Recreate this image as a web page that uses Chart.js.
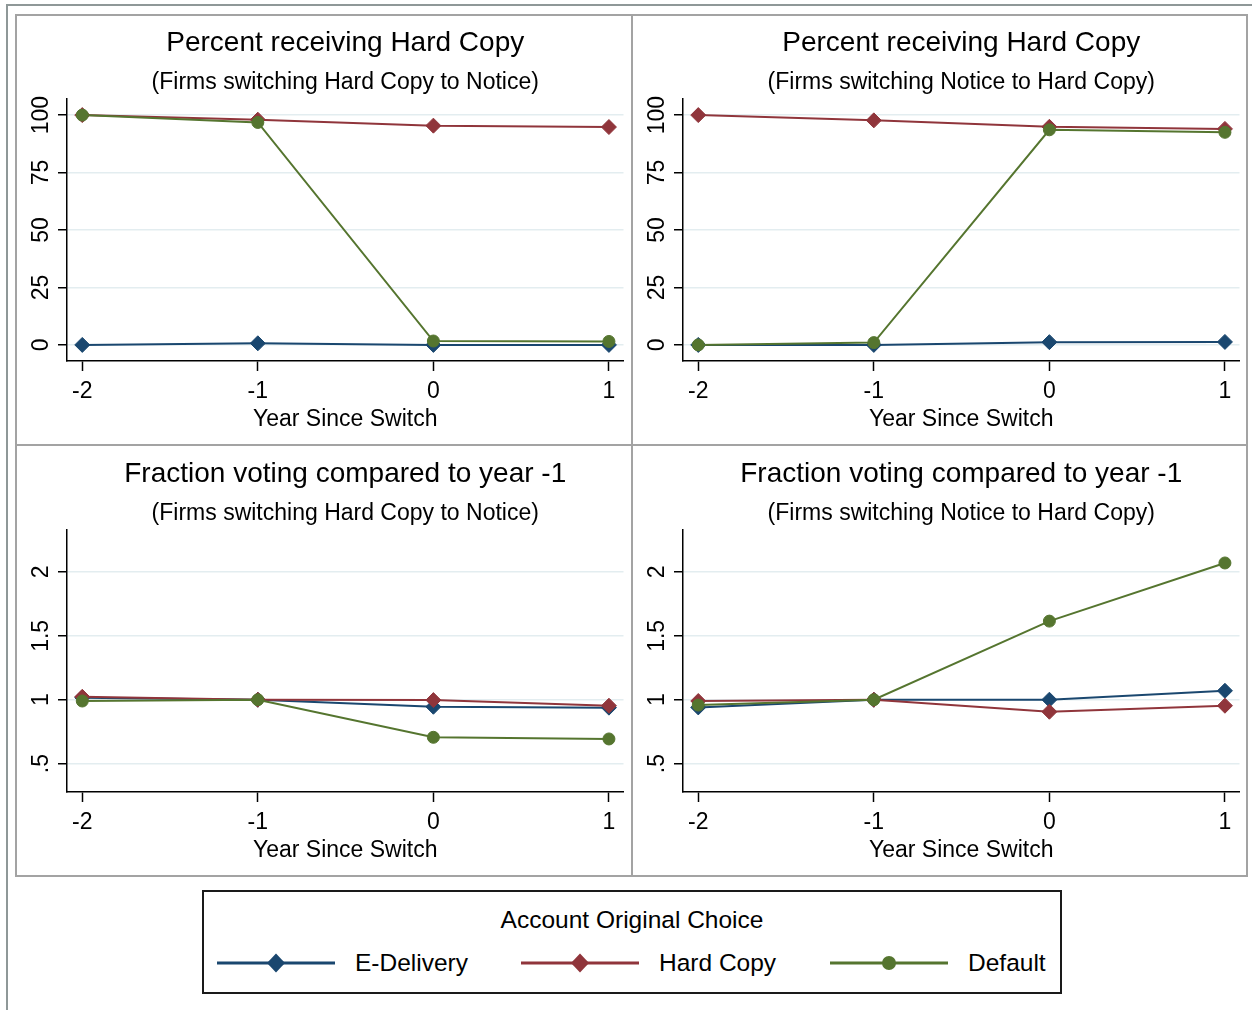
<!DOCTYPE html>
<html>
<head>
<meta charset="utf-8">
<script src="https://cdn.jsdelivr.net/npm/chart.js@4.4.1/dist/chart.umd.min.js"></script>
<style>
  html, body { margin: 0; padding: 0; background: #fff; }
  body { width: 1252px; height: 1010px; position: relative; overflow: hidden;
         font-family: "Liberation Sans", Arial, Helvetica, sans-serif; color: #000; }
  .frame { position: absolute; background: #8f9898; }
  .rule { position: absolute; background: #a3a3a3; }
  .panel { position: absolute; width: 615px; height: 430px; }
  .legend { position: absolute; left: 202px; top: 890px; width: 860px; height: 104px;
            border: 2px solid #1a1a1a; box-sizing: border-box; background: #fff; }
  .legend-title { position: absolute; left: 0; right: 0; top: 13px; text-align: center;
                  font-size: 24.5px; line-height: 30px; white-space: nowrap; }
  .legend-item { position: absolute; top: 56px; height: 30px; }
  .legend-item svg { position: absolute; left: 0; top: 0; }
  .legend-item span { position: absolute; top: 0; font-size: 24.5px; line-height: 30px; white-space: nowrap; }
</style>
</head>
<body>
<!-- outer frame -->
<div class="frame" style="left:6px;top:4px;width:1246px;height:2px;"></div>
<div class="frame" style="left:6px;top:4px;width:2px;height:1006px;"></div>
<!-- panel rules -->
<div class="rule" style="left:15px;top:14px;width:1233px;height:2px;"></div>
<div class="rule" style="left:15px;top:444px;width:1233px;height:2px;"></div>
<div class="rule" style="left:15px;top:875px;width:1233px;height:2px;"></div>
<div class="rule" style="left:15px;top:14px;width:2px;height:863px;"></div>
<div class="rule" style="left:631px;top:14px;width:2px;height:863px;"></div>
<div class="rule" style="left:1246px;top:14px;width:2px;height:863px;"></div>

<canvas id="pctHardToNotice" class="panel" width="615" height="430" style="left:17px;top:15px;"></canvas>
<canvas id="pctNoticeToHard" class="panel" width="615" height="430" style="left:633px;top:15px;"></canvas>
<canvas id="voteHardToNotice" class="panel" width="615" height="430" style="left:17px;top:446px;"></canvas>
<canvas id="voteNoticeToHard" class="panel" width="615" height="430" style="left:633px;top:446px;"></canvas>

<div class="legend" id="legend">
  <div class="legend-title">Account Original Choice</div>
</div>

<script>
// ---- data ----
const yearsSinceSwitch = [-2, -1, 0, 1];
const pctTicks = [0, 25, 50, 75, 100];
const ratioTicks = [0.5, 1, 1.5, 2];
const seriesNames = ['E-Delivery', 'Hard Copy', 'Default'];

// Percent receiving hard copy, firms switching hard copy -> notice
const pctHardToNoticeEDelivery = [0, 0.7, 0, 0];
const pctHardToNoticeHardCopy  = [100, 98.0, 95.4, 94.8];
const pctHardToNoticeDefault   = [100, 96.8, 1.7, 1.5];

// Percent receiving hard copy, firms switching notice -> hard copy
const pctNoticeToHardEDelivery = [0, 0, 1.2, 1.3];
const pctNoticeToHardHardCopy  = [100, 97.7, 94.9, 94.0];
const pctNoticeToHardDefault   = [0, 1.0, 93.6, 92.5];

// Fraction voting relative to year -1, firms switching hard copy -> notice
const voteHardToNoticeEDelivery = [1.016, 1.0, 0.945, 0.938];
const voteHardToNoticeHardCopy  = [1.023, 1.0, 0.997, 0.953];
const voteHardToNoticeDefault   = [0.99, 1.0, 0.706, 0.693];

// Fraction voting relative to year -1, firms switching notice -> hard copy
const voteNoticeToHardEDelivery = [0.94, 1.0, 1.0, 1.07];
const voteNoticeToHardHardCopy  = [0.99, 1.0, 0.906, 0.953];
const voteNoticeToHardDefault   = [0.958, 1.0, 1.615, 2.07];

// ---- styling ----
const FONT = '"Liberation Sans", Arial, Helvetica, sans-serif';
const seriesStyle = [
  { color: '#1a476f', marker: 'rectRot', radius: 7.5, order: 3 },
  { color: '#90353b', marker: 'rectRot', radius: 7.5, order: 2 },
  { color: '#55752f', marker: 'circle',  radius: 6,   order: 1 }
];

function makeDatasets(seriesValues) {
  return seriesValues.map((values, s) => ({
    label: seriesNames[s],
    data: yearsSinceSwitch.map((x, i) => ({ x: x, y: values[i] })),
    borderColor: seriesStyle[s].color,
    backgroundColor: seriesStyle[s].color,
    borderWidth: 2,
    pointStyle: seriesStyle[s].marker,
    pointRadius: seriesStyle[s].radius,
    pointBorderWidth: 1,
    pointBorderColor: seriesStyle[s].color,
    pointBackgroundColor: seriesStyle[s].color,
    tension: 0,
    order: seriesStyle[s].order,
    clip: false
  }));
}

function makePanel(id, title, subtitle, seriesValues, yMin, yMax, yTicks, yTickPad) {
  new Chart(document.getElementById(id), {
    type: 'line',
    data: { datasets: makeDatasets(seriesValues) },
    options: {
      responsive: false,
      animation: false,
      events: [],
      layout: { padding: { left: 0, right: 8, top: 0, bottom: 0 } },
      plugins: {
        legend: { display: false },
        tooltip: { enabled: false },
        title: {
          display: true, text: title, fullSize: false, color: '#000',
          font: { family: FONT, size: 28, weight: 'normal' },
          padding: { top: 11.5, bottom: 0 }
        },
        subtitle: {
          display: true, text: subtitle, fullSize: false, color: '#000',
          font: { family: FONT, size: 23, weight: 'normal' },
          padding: { top: 8.4, bottom: 2.9 }
        }
      },
      scales: {
        x: {
          type: 'linear', position: 'bottom',
          min: -2.087, max: 1.083,
          afterBuildTicks: s => { s.ticks = yearsSinceSwitch.map(v => ({ value: v })); },
          afterFit: s => { s.height = 84; },
          ticks: {
            color: '#000', font: { family: FONT, size: 23 }, padding: 7,
            autoSkip: false, maxRotation: 0, minRotation: 0,
            callback: v => String(v)
          },
          grid: { drawOnChartArea: false, drawTicks: true, tickLength: 10, tickColor: '#000', tickWidth: 1.5 },
          border: { display: true, color: '#000', width: 1.5 },
          title: {
            display: true, text: 'Year Since Switch', color: '#000',
            font: { family: FONT, size: 23 }, padding: { top: 0, bottom: 11.5 }
          }
        },
        y: {
          type: 'linear', position: 'left',
          min: yMin, max: yMax,
          afterBuildTicks: s => { s.ticks = yTicks.map(v => ({ value: v })); },
          afterFit: s => { s.width = 50; },
          ticks: {
            color: '#000', font: { family: FONT, size: 23 }, padding: yTickPad,
            autoSkip: false, minRotation: 90, maxRotation: 90, crossAlign: 'center',
            callback: v => String(v).replace(/^0\./, '.')
          },
          grid: {
            drawOnChartArea: true, drawTicks: true, tickLength: 9,
            color: '#e3edf0', lineWidth: 1.5, tickColor: '#000', tickWidth: 1.5
          },
          border: { display: true, color: '#000', width: 1.5 }
        }
      }
    }
  });
}

makePanel('pctHardToNotice', 'Percent receiving Hard Copy', '(Firms switching Hard Copy to Notice)',
  [pctHardToNoticeEDelivery, pctHardToNoticeHardCopy, pctHardToNoticeDefault], -7, 107, pctTicks, -3);
makePanel('pctNoticeToHard', 'Percent receiving Hard Copy', '(Firms switching Notice to Hard Copy)',
  [pctNoticeToHardEDelivery, pctNoticeToHardHardCopy, pctNoticeToHardDefault], -7, 107, pctTicks, -3);
makePanel('voteHardToNotice', 'Fraction voting compared to year -1', '(Firms switching Hard Copy to Notice)',
  [voteHardToNoticeEDelivery, voteHardToNoticeHardCopy, voteHardToNoticeDefault], 0.278, 2.328, ratioTicks, 0.2);
makePanel('voteNoticeToHard', 'Fraction voting compared to year -1', '(Firms switching Notice to Hard Copy)',
  [voteNoticeToHardEDelivery, voteNoticeToHardHardCopy, voteNoticeToHardDefault], 0.278, 2.328, ratioTicks, 0.2);

// ---- shared legend ----
(function buildLegend() {
  const legend = document.getElementById('legend');
  const itemLeft = [13, 317, 626];
  const sampleWidth = 118;
  const textGap = 20;
  seriesNames.forEach((name, s) => {
    const st = seriesStyle[s];
    const item = document.createElement('div');
    item.className = 'legend-item';
    item.style.left = itemLeft[s] + 'px';
    const mid = sampleWidth / 2;
    const marker = st.marker === 'circle'
      ? `<circle cx="${mid}" cy="15" r="7" fill="${st.color}"/>`
      : `<polygon points="${mid - 9},15 ${mid},5.5 ${mid + 9},15 ${mid},24.5" fill="${st.color}"/>`;
    item.innerHTML =
      `<svg width="${sampleWidth}" height="30" viewBox="0 0 ${sampleWidth} 30">` +
      `<line x1="0" y1="15" x2="${sampleWidth}" y2="15" stroke="${st.color}" stroke-width="3"/>` +
      marker + `</svg>` +
      `<span style="left:${sampleWidth + textGap}px">${name}</span>`;
    legend.appendChild(item);
  });
})();
</script>
</body>
</html>
